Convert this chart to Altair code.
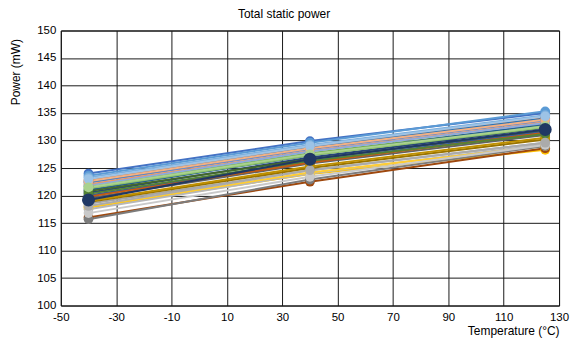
import altair as alt
import pandas as pd

temps = [-40, 40, 125]

series = [f"S{i}" for i in range(1, 32)]
colors = [
    "#4472C4", "#ED7D31", "#A5A5A5", "#FFC000", "#5B9BD5", "#70AD47",
    "#264478", "#9E480E", "#636363", "#997300", "#255E91", "#43682B",
    "#698ED0", "#F1975A", "#B7B7B7", "#FFCD33", "#7CAFDD", "#8CC168",
    "#335AA1", "#C55A11", "#7C7C7C", "#BF9000", "#2E75B6", "#548235",
    "#8FAADC", "#F4B183", "#C9C9C9", "#ABABAB", "#9DC3E6", "#A9D18E",
    "#203864",
]
p_m40 = [124.0, 122.8, 118.5, 117.8, 123.6, 121.7, 120.5, 116.0, 119.5, 118.8,
         121.0, 120.8, 122.3, 122.0, 117.5, 118.0, 123.3, 121.3, 120.0, 119.8,
         115.7, 119.0, 122.5, 120.3, 121.8, 122.6, 116.8, 118.1, 123.0, 121.5,
         119.2]
p_40 = [129.9, 129.0, 124.6, 123.9, 129.6, 127.7, 126.9, 122.5, 125.8, 125.0,
        127.3, 126.6, 128.4, 128.1, 124.0, 124.2, 129.2, 127.3, 126.2, 126.0,
        122.9, 125.3, 128.7, 126.3, 128.0, 128.6, 123.4, 124.6, 129.0, 127.5,
        126.6]
p_125 = [135.0, 134.1, 129.6, 128.3, 135.3, 132.8, 132.3, 128.6, 131.0, 130.2,
         133.0, 131.8, 133.6, 133.3, 129.3, 129.0, 134.6, 132.4, 131.6, 131.4,
         129.0, 130.5, 134.0, 131.2, 133.2, 133.8, 129.2, 129.6, 134.4, 132.6,
         132.0]
marker_sizes = [95] * 30 + [170]

rows = []
for i, s in enumerate(series):
    for t, v in zip(temps, [p_m40[i], p_40[i], p_125[i]]):
        rows.append({"series": s, "order": i, "temp": t, "power": v, "msize": marker_sizes[i]})
df = pd.DataFrame(rows)

font = "Liberation Sans"

x = alt.X("temp:Q", scale=alt.Scale(domain=[-50, 130], nice=False),
          axis=alt.Axis(values=list(range(-50, 131, 20)), title="Temperature (°C)",
                        labelExpr="'' + datum.value", labelFlush=False,
                        titleAnchor="end", titleFontWeight="normal", titleFontSize=12,
                        titlePadding=3, labelPadding=6, ticks=False, domain=False,
                        grid=True, gridColor="#1a1a1a", gridWidth=1,
                        labelFontSize=11.5, labelColor="#000", titleColor="#000"))
y = alt.Y("power:Q", scale=alt.Scale(domain=[100, 150], nice=False),
          axis=alt.Axis(values=list(range(100, 151, 5)), title="Power (mW)",
                        labelFlush=False,
                        titleFontWeight="normal", titleFontSize=12,
                        titleAlign="right", titleBaseline="middle", titleAngle=-90,
                        titleX=-45, titleY=8,
                        labelPadding=5, ticks=False, domain=False,
                        grid=True, gridColor="#1a1a1a", gridWidth=1,
                        labelFontSize=11.5, labelColor="#000", titleColor="#000"))
color = alt.Color("series:N", scale=alt.Scale(domain=series, range=colors), legend=None)

lines = alt.Chart(df).mark_line(strokeWidth=2).encode(
    x=x, y=y, color=color, detail="series:N", order="temp:Q")
points = alt.Chart(df).mark_circle(opacity=1).encode(
    x=x, y=y, color=color,
    size=alt.Size("msize:Q", scale=None, legend=None),
    order="order:Q")

chart = alt.layer(lines, points).properties(
    width=500, height=276,
    title=alt.TitleParams("Total static power", fontSize=12, fontWeight="normal",
                          font=font, color="#000", offset=4, dx=-26, frame="group"),
    autosize=alt.AutoSizeParams(type="none"),
    padding={"left": 53, "top": 22, "right": 16, "bottom": 32},
).configure(font=font).configure_view(stroke="#000", strokeWidth=1)

chart.save("out.html", embed_options={"renderer": "svg", "actions": False})
